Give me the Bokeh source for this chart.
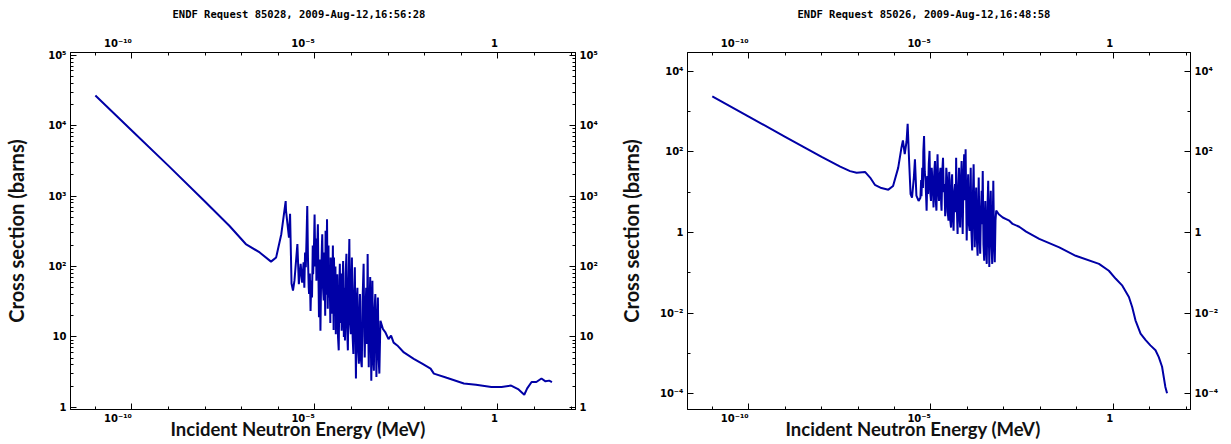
from bokeh.plotting import figure
from bokeh.models import FixedTicker, LogAxis, CustomJSTickFormatter, Title, Range1d
from bokeh.layouts import row
from bokeh.embed import file_html
from bokeh.resources import INLINE

# ---------------- data (log10 values) ----------------
left_title = "ENDF Request 85028, 2009-Aug-12,16:56:28"
right_title = "ENDF Request 85026, 2009-Aug-12,16:48:58"
x_label = "Incident  Neutron Energy (MeV)"
y_label = "Cross section (barns)"

# log10(E / MeV)
left_log_energy = [
    -11.0, -10.0, -9.0, -8.0, -7.34, -6.89, -6.51, -6.20, -6.06, -5.92,
    -5.80, -5.79, -5.71, -5.68, -5.64, -5.60, -5.56, -5.48, -5.44, -5.39, -5.35,
    -5.31, -5.29, -5.27, -5.25, -5.23, -5.21, -5.19, -5.17, -5.16, -5.14,
    -5.12, -5.10, -5.08, -5.06, -5.05, -5.03, -5.01, -4.99, -4.97, -4.96,
    -4.94, -4.92, -4.90, -4.89, -4.87, -4.85, -4.83, -4.81, -4.80, -4.78,
    -4.76, -4.74, -4.72, -4.71, -4.69, -4.67, -4.65, -4.63, -4.62, -4.60,
    -4.58, -4.57, -4.55, -4.53, -4.51, -4.49, -4.48, -4.46, -4.44, -4.43,
    -4.41, -4.39, -4.37, -4.35, -4.33, -4.32, -4.30, -4.28, -4.27, -4.25,
    -4.23, -4.21, -4.19, -4.18, -4.16, -4.14, -4.12, -4.10, -4.08, -4.06,
    -4.04, -4.02, -4.00, -3.99, -3.97, -3.95, -3.93, -3.91, -3.89, -3.88,
    -3.86, -3.84, -3.82, -3.80, -3.78, -3.77, -3.75, -3.72, -3.70, -3.67,
    -3.65, -3.64, -3.62, -3.60, -3.58, -3.56, -3.54, -3.53, -3.51, -3.49,
    -3.47, -3.46, -3.44, -3.43, -3.41, -3.39, -3.37, -3.35, -3.33, -3.32,
    -3.30, -3.28, -3.26, -3.24, -3.22, -3.21,
    -3.14, -3.08, -2.99, -2.92, -2.85, -2.75, -2.57, -2.30, -2.07, -1.84,
    -1.75, -1.40, -0.93, -0.60, -0.18, 0.10, 0.36, 0.55, 0.72, 0.80,
    0.92, 1.05, 1.19, 1.30, 1.40, 1.477,
]
# log10(sigma / barns)
left_log_xs = [
    4.43, 3.93, 3.43, 2.92, 2.58, 2.32, 2.20, 2.07, 2.13, 2.46,
    2.93, 2.79, 2.41, 2.75, 1.76, 1.66, 1.80, 2.32, 1.75, 2.04, 1.77,
    2.06, 1.70, 2.20, 1.99, 2.40, 2.86, 2.10, 1.70, 1.61, 1.90,
    1.37, 1.80, 1.56, 2.30, 1.89, 2.20, 2.74, 2.00, 2.40, 1.80,
    2.20, 2.60, 1.70, 1.28, 2.10, 1.09, 1.90, 2.30, 2.46, 1.70,
    1.52, 2.20, 1.30, 2.51, 1.60, 2.67, 1.40, 2.30, 1.56, 2.00,
    1.20, 2.13, 1.50, 1.33, 2.30, 1.10, 2.13, 1.40, 2.00, 1.04,
    1.70, 1.89, 1.00, 0.81, 1.80, 2.04, 1.20, 1.90, 1.09, 1.60,
    2.08, 1.00, 1.70, 0.95, 1.90, 2.18, 1.10, 0.81, 1.80, 2.39,
    1.20, 1.04, 1.90, 2.13, 1.00, 0.76, 1.60, 1.99, 0.90, 0.41,
    1.50, 1.70, 0.80, 0.62, 1.40, 1.61, 0.70, 0.57, 1.50, 2.04,
    1.00, 0.71, 1.30, 1.70, 0.90, 2.18, 1.00, 0.57, 1.40, 1.85,
    0.80, 0.38, 1.30, 1.80, 0.70, 0.52, 1.40, 1.61, 0.80, 0.43,
    1.20, 1.56, 0.70, 0.48, 1.00, 1.23,
    1.11, 1.07, 0.97, 1.02, 0.92, 0.88, 0.78, 0.69, 0.62, 0.55,
    0.48, 0.42, 0.34, 0.32, 0.29, 0.29, 0.31, 0.26, 0.18, 0.27,
    0.36, 0.36, 0.41, 0.37, 0.38, 0.36,
]

right_log_energy = [
    -11.0, -10.0, -9.0, -8.0, -7.49, -7.22, -7.04, -6.81, -6.67, -6.54,
    -6.36, -6.17, -6.04, -5.90, -5.81, -5.77, -5.72, -5.67, -5.64, -5.60,
    -5.56, -5.52, -5.47, -5.44, -5.40, -5.34,
    -5.29, -5.27, -5.26, -5.24, -5.22, -5.21, -5.19, -5.17, -5.15, -5.13,
    -5.12, -5.10, -5.08, -5.06, -5.04, -5.02, -5.00, -4.98, -4.96, -4.94,
    -4.93, -4.91, -4.89, -4.87, -4.85, -4.83, -4.82, -4.80, -4.78, -4.76,
    -4.74, -4.72, -4.71, -4.69, -4.67, -4.65, -4.63, -4.61, -4.60, -4.58,
    -4.56, -4.54, -4.52, -4.50, -4.49, -4.47, -4.45, -4.43, -4.42, -4.40,
    -4.38, -4.36, -4.34, -4.32, -4.31, -4.29, -4.27, -4.25, -4.23, -4.21,
    -4.20, -4.18, -4.16, -4.14, -4.13, -4.11, -4.09, -4.07, -4.05, -4.03,
    -4.02, -4.00, -3.98, -3.96, -3.94, -3.92, -3.91, -3.89, -3.87, -3.85,
    -3.83, -3.81, -3.80, -3.78, -3.76, -3.74, -3.72, -3.70, -3.69, -3.67,
    -3.65, -3.63, -3.61, -3.60, -3.58, -3.56, -3.54, -3.52, -3.51, -3.49,
    -3.47, -3.45, -3.43, -3.41, -3.40, -3.38, -3.36, -3.34, -3.32, -3.30,
    -3.29, -3.27, -3.25, -3.23, -3.21,
    -3.14, -3.03, -2.94, -2.85, -2.76, -2.58, -2.39, -2.03, -1.48, -1.03,
    -0.39, -0.12, 0.07, 0.25, 0.43, 0.52, 0.61, 0.75, 0.89, 1.02,
    1.16, 1.25, 1.34, 1.43, 1.477,
]
right_log_xs = [
    3.37, 2.87, 2.37, 1.87, 1.63, 1.52, 1.48, 1.50, 1.36, 1.18,
    1.10, 1.06, 1.15, 1.60, 2.10, 2.28, 1.94, 2.26, 2.69, 1.77,
    0.95, 0.86, 1.36, 1.81, 0.91, 0.78,
    0.86, 1.30, 0.90, 1.60, 1.10, 2.00, 2.39, 1.50, 1.28, 0.80,
    0.54, 1.40, 0.95, 1.70, 2.02, 1.00, 0.78, 1.60, 1.28, 0.90,
    0.62, 1.50, 1.77, 0.80, 0.54, 1.60, 1.94, 1.10, 0.78, 1.40,
    1.60, 0.70, 0.54, 1.50, 1.85, 1.00, 1.20, 0.40, 0.54, 1.60,
    1.36, 0.50, 0.29, 1.50, 1.28, 0.30, 0.12, 1.30, 1.44, 0.40,
    0.04, 1.00, 1.20, 0.50, 1.85, 0.60, -0.04, 1.00, 1.60, 0.30,
    0.12, 1.20, 1.77, 0.40, -0.04, 1.30, 1.94, 0.80, 2.06, 0.50,
    -0.20, 0.90, 1.44, 0.20, 0.04, 1.10, 1.60, 0.00, -0.45, 0.90,
    1.69, 0.30, -0.37, 0.60, 1.11, -0.20, -0.58, 0.80, 1.36, 0.00,
    -0.53, 0.50, 1.03, 0.20, 1.52, -0.30, -0.70, 0.40, 0.78, -0.40,
    -0.78, 0.60, 1.28, -0.20, -0.86, 0.50, 1.03, -0.30, -0.78, 0.60,
    1.28, -0.20, -0.74, 0.30, 0.54,
    0.45, 0.37, 0.33, 0.29, 0.21, 0.14, 0.02, -0.16, -0.37, -0.58,
    -0.78, -0.95, -1.15, -1.32, -1.60, -1.85, -2.18, -2.51, -2.67, -2.80,
    -2.92, -3.09, -3.33, -3.83, -3.99,
]

# ticks
x_major_ticks = [1e-10, 1e-5, 1.0]
x_minor_ticks = [1e-11, 1e-10, 1e-9, 1e-8, 1e-7, 1e-6, 1e-5, 1e-4, 1e-3, 1e-2, 1e-1, 1.0, 10.0, 100.0]
left_y_major_ticks = [1.0, 10.0, 100.0, 1e3, 1e4, 1e5]
left_y_minor_ticks = [m * d for d in [1.0, 10.0, 100.0, 1e3, 1e4] for m in [2, 3, 4, 5, 6, 7, 8, 9]]
right_y_major_ticks = [1e-4, 1e-2, 1.0, 1e2, 1e4]
right_y_minor_ticks = [1e-3, 1e-1, 10.0, 1e3]

LINE_COLOR = "#0000a6"

SUP_JS = """
const e = Math.round(Math.log10(tick));
if (e === 0) return "1";
if (e === 1) return "10";
const sup = {"-":"\\u207B","0":"\\u2070","1":"\\u00B9","2":"\\u00B2","3":"\\u00B3","4":"\\u2074",
             "5":"\\u2075","6":"\\u2076","7":"\\u2077","8":"\\u2078","9":"\\u2079"};
return "10" + String(e).split("").map(c => sup[c]).join("");
"""


def style_axis(ax, major, minor):
    ax.ticker = FixedTicker(ticks=major, minor_ticks=minor)
    ax.formatter = CustomJSTickFormatter(code=SUP_JS)
    ax.major_tick_in = 6
    ax.major_tick_out = 0
    ax.minor_tick_in = 3
    ax.minor_tick_out = 0
    ax.axis_line_color = "black"
    ax.major_tick_line_color = "black"
    ax.minor_tick_line_color = "black"
    ax.major_label_text_font = "DejaVu Sans"
    ax.major_label_text_font_style = "bold"
    ax.major_label_text_font_size = "10px"
    ax.major_label_text_color = "black"
    ax.major_label_standoff = 4


def make_panel(title, log_e, log_xs, y_lo, y_hi, y_major, y_minor, width, b_left, b_right,
               ylabel_standoff, title_offset, xlabel_offset):
    p = figure(width=width, height=444, x_axis_type="log", y_axis_type="log",
               x_range=Range1d(10 ** -11.68, 10 ** 2.12), y_range=Range1d(10 ** y_lo, 10 ** y_hi),
               output_backend="svg", toolbar_location=None,
               min_border_left=b_left, min_border_right=b_right, min_border_top=51, min_border_bottom=35)
    p.grid.visible = False
    p.outline_line_color = "black"
    p.background_fill_color = "white"
    p.border_fill_color = "white"

    energy = [10 ** v for v in log_e]
    xs = [10 ** v for v in log_xs]
    p.line(energy, xs, line_color=LINE_COLOR, line_width=2)

    # tiny label angles make the x labels end at their tick, as in the reference
    bottom = p.xaxis[0]
    style_axis(bottom, x_major_ticks, x_minor_ticks)
    bottom.major_label_orientation = 0.0001
    bottom.major_label_standoff = 9
    style_axis(p.yaxis[0], y_major, y_minor)

    top = LogAxis()
    style_axis(top, x_major_ticks, x_minor_ticks)
    top.major_label_orientation = -0.0001
    top.major_label_standoff = 9
    p.add_layout(top, "above")
    right = LogAxis()
    style_axis(right, y_major, y_minor)
    p.add_layout(right, "right")

    ya = p.yaxis[0]
    ya.axis_label = y_label
    ya.axis_label_text_font = "Lato"
    ya.axis_label_text_font_style = "bold"
    ya.axis_label_text_font_size = "20px"
    ya.axis_label_text_color = "#111111"
    ya.axis_label_standoff = ylabel_standoff

    p.add_layout(Title(text=title, align="left", offset=title_offset, text_font="DejaVu Sans Mono",
                       text_font_style="bold", text_font_size="10.5px", text_color="black",
                       vertical_align="top", standoff=15), "above")
    p.add_layout(Title(text=x_label, align="left", offset=xlabel_offset, text_font="Lato",
                       text_font_style="bold", text_font_size="18.5px", text_color="#111111",
                       vertical_align="top", standoff=-30), "below")
    return p


p1 = make_panel(left_title, left_log_energy, left_log_xs, -0.03, 5.04, left_y_major_ticks, left_y_minor_ticks,
                615, 70, 40, 17, 102, 100)
p2 = make_panel(right_title, right_log_energy, right_log_xs, -4.39, 4.46, right_y_major_ticks, right_y_minor_ticks,
                616, 72, 41, 14, 110, 98)

layout = row(p1, p2)
open("out.html", "w").write(file_html(layout, INLINE))
